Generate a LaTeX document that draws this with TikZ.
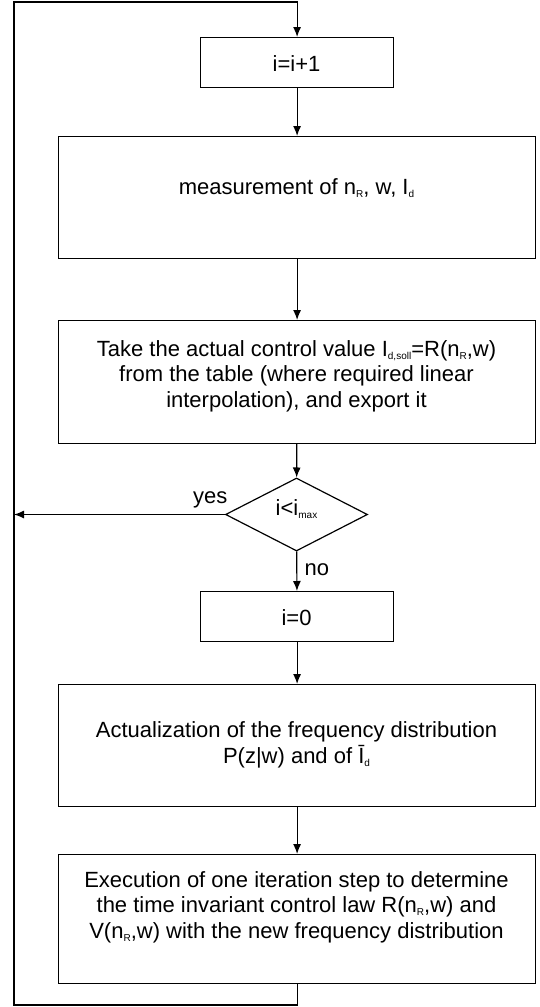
\documentclass[tikz,border=0pt]{standalone}
\usepackage{fontspec}
\setmainfont{Liberation Sans}
\usetikzlibrary{shapes.geometric,arrows.meta}
\newcommand{\lsub}[1]{\raisebox{-3pt}{\fontsize{10}{10}\selectfont #1}}
\begin{document}
\begin{tikzpicture}[x=1pt,y=-1pt,line width=1.2pt,
  boxst/.style={draw,inner sep=0pt,anchor=north west},
  txt/.style={font=\fontsize{22}{25.5}\selectfont,align=center,inner sep=0pt,anchor=base},
  arr/.style={-{Latex[length=10pt,width=8pt]}}]
\useasboundingbox (0,0) rectangle (540,1007);
% boxes
\node[boxst,minimum width=193pt,minimum height=50pt] (b1) at (200,37) {};
\node[boxst,minimum width=477pt,minimum height=122pt] (b2) at (58,136) {};
\node[boxst,minimum width=477pt,minimum height=123pt] (b3) at (58,320) {};
\node[draw,diamond,inner sep=0pt,minimum width=142pt,minimum height=73pt,aspect=1.95] (dia) at (296.5,514.5) {};
\node[boxst,minimum width=193pt,minimum height=50pt] (b4) at (200,591) {};
\node[boxst,minimum width=477pt,minimum height=122pt] (b5) at (58,684) {};
\node[boxst,minimum width=477pt,minimum height=129pt] (b6) at (58,854) {};
% texts
\node[txt] (t1) at (296.5,71) {i=i+1};
\node[txt] (t2) at (296.5,194) {measurement of n\lsub{R}, w, I\lsub{d}};
\node[txt] (t3) at (296.5,407) {Take the actual control value I\lsub{d,soll}=R(n\lsub{R},w)\\from the table (where required linear\\interpolation), and export it};
\node[txt] (td) at (296.5,515) {i<i\lsub{max}};
\node[txt] (t4) at (296.5,625) {i=0};
\node[txt] (t5) at (296.5,763) {Actualization of the frequency distribution\\P(z|w) and of \={I}\lsub{d}};
\node[txt] (t6) at (296.5,938) {Execution of one iteration step to determine\\the time invariant control law R(n\lsub{R},w) and\\V(n\lsub{R},w) with the new frequency distribution};
\node[txt,anchor=base east] (yes) at (228,503) {yes};
\node[txt,anchor=base west] (no) at (304,575) {no};
% connectors
\coordinate (bl) at (14,1005);
\coordinate (tl) at (14,2);
\coordinate (yl) at (14,514.5);
\draw[arr] (b1) -- (b2);
\draw[arr] (b2) -- (b3);
\draw[arr] (b3) -- (dia);
\draw[arr] (dia) -- (b4);
\draw[arr] (b4) -- (b5);
\draw[arr] (b5) -- (b6);
\draw[arr] (dia.west) -- (yl);
\draw[arr] (b6.south) -- (b6.south |- bl) -- (bl) -- (tl) -- (b1.north |- tl) -- (b1.north);
\end{tikzpicture}
\end{document}
